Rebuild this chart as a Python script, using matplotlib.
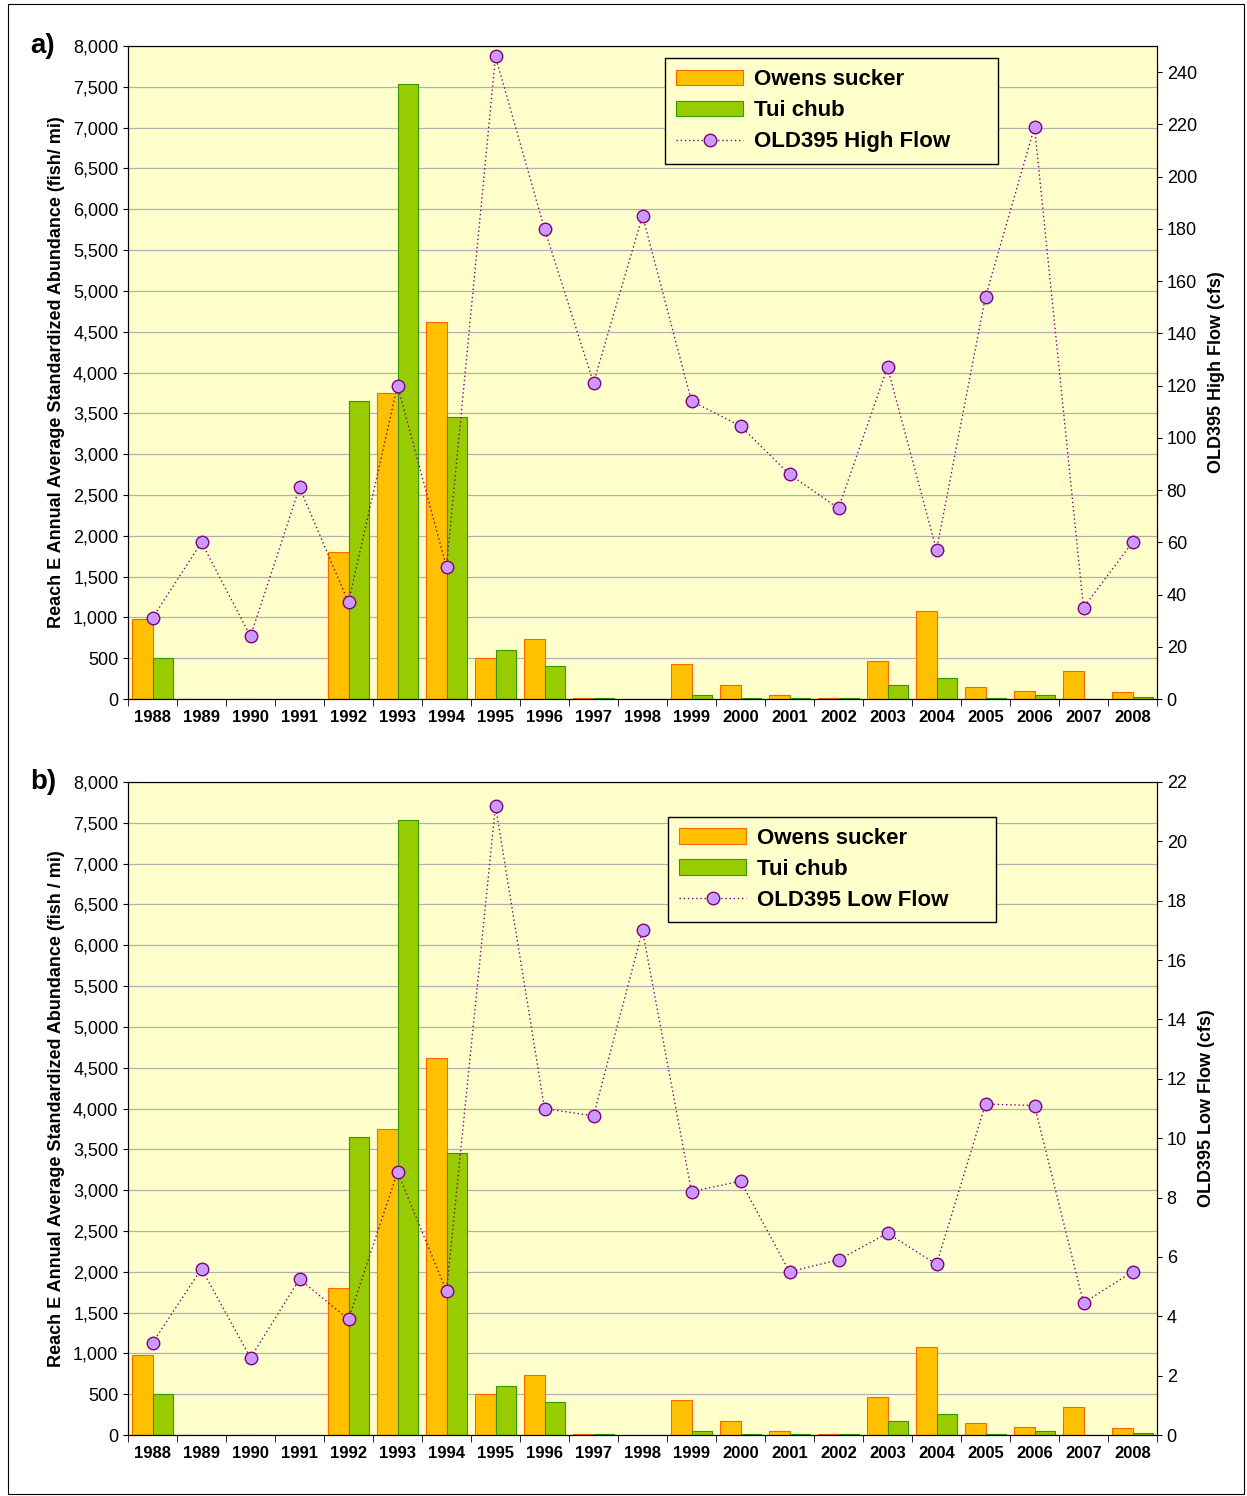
import matplotlib.pyplot as plt
import numpy as np
from matplotlib.patches import Rectangle

plt.rcParams['font.family'] = ['Liberation Sans', 'DejaVu Sans']

years = list(range(1988, 2009))
sucker = [980, 0, 0, 0, 1800, 3750, 4620, 500, 740, 15, 0, 430, 170, 50, 15, 470, 1080, 150, 100, 340, 80]
chub = [500, 0, 0, 0, 3650, 7530, 3450, 600, 410, 15, 0, 50, 15, 15, 15, 170, 260, 15, 50, 0, 30]
high_flow = [31, 60, 24, 81, 37, 120, 50.5, 246, 180, 121, 185, 114, 104.5, 86, 73, 127, 57, 154, 219, 35, 60]
low_flow = [3.1, 5.6, 2.6, 5.25, 3.9, 8.86, 4.85, 21.2, 11.0, 10.75, 17.0, 8.2, 8.55, 5.5, 5.9, 6.8, 5.75, 11.15, 11.1, 4.45, 5.5]

W, H = 1247, 1496
fig = plt.figure(figsize=(W / 100, H / 100), dpi=100)
fig.patches.append(Rectangle((8 / W, 2 / H), 1236 / W, 1490 / H, transform=fig.transFigure,
                             fill=False, edgecolor='black', lw=0.8))

panels = [
    ('a)', 46, high_flow, 250, [0, 20, 40, 60, 80, 100, 120, 140, 160, 180, 200, 220, 240],
     'OLD395 High Flow (cfs)', 'OLD395 High Flow', 'Reach E Annual Average Standardized Abundance (fish/ mi)',
     (0.522, 0.82)),
    ('b)', 782, low_flow, 22, list(range(0, 23, 2)),
     'OLD395 Low Flow (cfs)', 'OLD395 Low Flow', 'Reach E Annual Average Standardized Abundance (fish / mi)',
     (0.525, 0.786)),
]

x = np.arange(len(years))
bw = 0.42
bold = dict(fontweight='bold')
for label, top, flow, rmax, rticks, rlab, llab, ylab, legpos in panels:
    ax = fig.add_axes([128 / W, 1 - (top + 653) / H, 1029 / W, 653 / H])
    ax.set_facecolor('#FFFFCC')
    ax.set_ylim(0, 8000)
    ax.set_xlim(-0.5, len(years) - 0.5)
    ax.set_yticks(range(0, 8001, 500))
    ax.set_yticklabels([f'{v:,}' for v in range(0, 8001, 500)], fontsize=13)
    ax.yaxis.grid(True, color='#B0B0B0', lw=0.9)
    ax.set_axisbelow(True)
    b1 = ax.bar(x - bw / 2, sucker, bw, color='#FFC000', edgecolor='#FF6600', lw=0.8)
    b2 = ax.bar(x + bw / 2, chub, bw, color='#99CC00', edgecolor='#339900', lw=0.8)
    ax.set_xticks(x)
    ax.set_xticklabels(years, fontsize=12, **bold)
    ax.set_xticks(np.arange(-0.5, len(years)), minor=True)
    ax.tick_params(axis='x', which='major', length=0, pad=8)
    ax.tick_params(axis='x', which='minor', length=5)
    ax.set_ylabel(ylab, fontsize=13, labelpad=6, **bold)
    ax.text(-0.095, 1.0, label, transform=ax.transAxes, fontsize=20, ha='left', va='center', **bold)

    # flow on the right axis
    ax2 = ax.twinx()
    ax2.set_ylim(0, rmax)
    ax2.set_yticks(rticks)
    ax2.tick_params(labelsize=13)
    ln, = ax2.plot(x, flow, ls=(0, (1, 2)), color='#800080', lw=1.0, marker='o', ms=9,
                   mfc='#CC99FF', mec='#800080')
    ax2.set_ylabel(rlab, fontsize=13, labelpad=8, **bold)

    ax2.legend([b1, b2, ln], ['Owens sucker', 'Tui chub', llab + '      '], loc='lower left',
               bbox_to_anchor=legpos, prop=dict(weight='bold', size=16),
               fancybox=False, edgecolor='black', framealpha=1, facecolor='#FFFFCC',
               handlelength=3.0, handletextpad=0.5, borderpad=0.5, borderaxespad=0,
               labelspacing=0.45)

fig.savefig('out.png', dpi=100)
